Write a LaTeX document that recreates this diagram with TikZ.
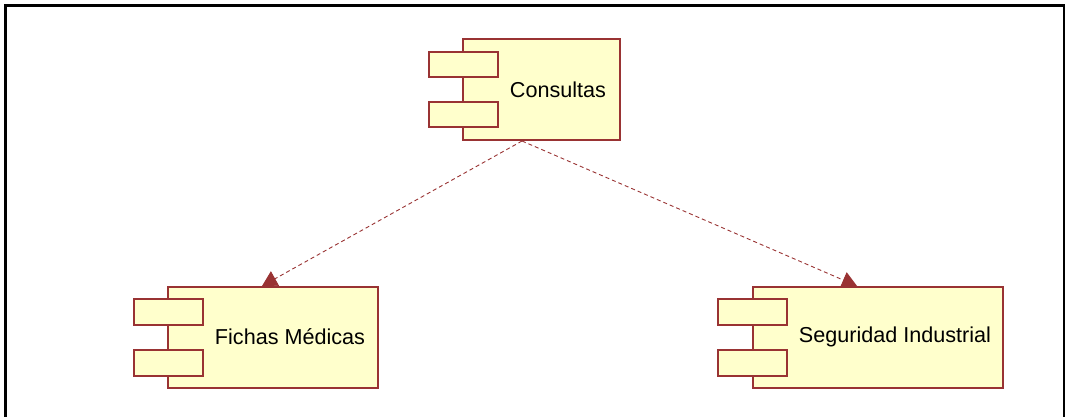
\documentclass[tikz,border=0pt]{standalone}
\usepackage{fontspec}
\setmainfont{Liberation Sans}
\usetikzlibrary{arrows.meta}
\definecolor{umlred}{RGB}{153,51,51}
\definecolor{umlfill}{RGB}{255,255,204}
\begin{document}
\begin{tikzpicture}[x=1pt,y=-1pt,
  comp/.style={draw=umlred, fill=umlfill, line width=2pt, inner sep=0pt, outer sep=0pt},
  lbl/.style={font=\fontsize{21.6}{25}\selectfont, inner sep=0pt},
  dep/.style={draw=umlred, line width=0.9pt, dash pattern=on 4pt off 3pt,
    -{Triangle[width=17pt,length=15pt]}}]
\useasboundingbox (0,0) rectangle (1065,417);
% frame
\draw[line width=3pt] (5,417) -- (5,6) -- (1065,6);
\draw[line width=2pt] (1063.5,6) -- (1063.5,417);
% Consultas
\node[comp, minimum width=157pt, minimum height=101pt] (cM) at (541.5,89.5) {};
\node[comp, minimum width=69pt, minimum height=25pt] (cA) at (463.5,64.5) {};
\node[comp, minimum width=69pt, minimum height=25pt] (cB) at (463.5,114.5) {};
\node[lbl] (cT) at (558,90) {Consultas};
% Fichas Medicas
\node[comp, minimum width=210pt, minimum height=101pt] (fM) at (273,337.5) {};
\node[comp, minimum width=69pt, minimum height=26pt] (fA) at (168.5,312) {};
\node[comp, minimum width=69pt, minimum height=26pt] (fB) at (168.5,363) {};
\node[lbl] (fT) at (290,337) {Fichas Médicas};
% Seguridad Industrial
\node[comp, minimum width=250pt, minimum height=101pt] (sM) at (878,337.5) {};
\node[comp, minimum width=69pt, minimum height=26pt] (sA) at (752.5,312) {};
\node[comp, minimum width=69pt, minimum height=26pt] (sB) at (752.5,363) {};
\node[lbl] (sT) at (895,337) {Seguridad Industrial};
% connector ends
\coordinate (cS) at (522,141);
\coordinate (fN) at (262,286);
\coordinate (sN) at (857,286);
\draw[dep] (cS) -- (fN);
\draw[dep] (cS) -- (sN);
\end{tikzpicture}
\end{document}
